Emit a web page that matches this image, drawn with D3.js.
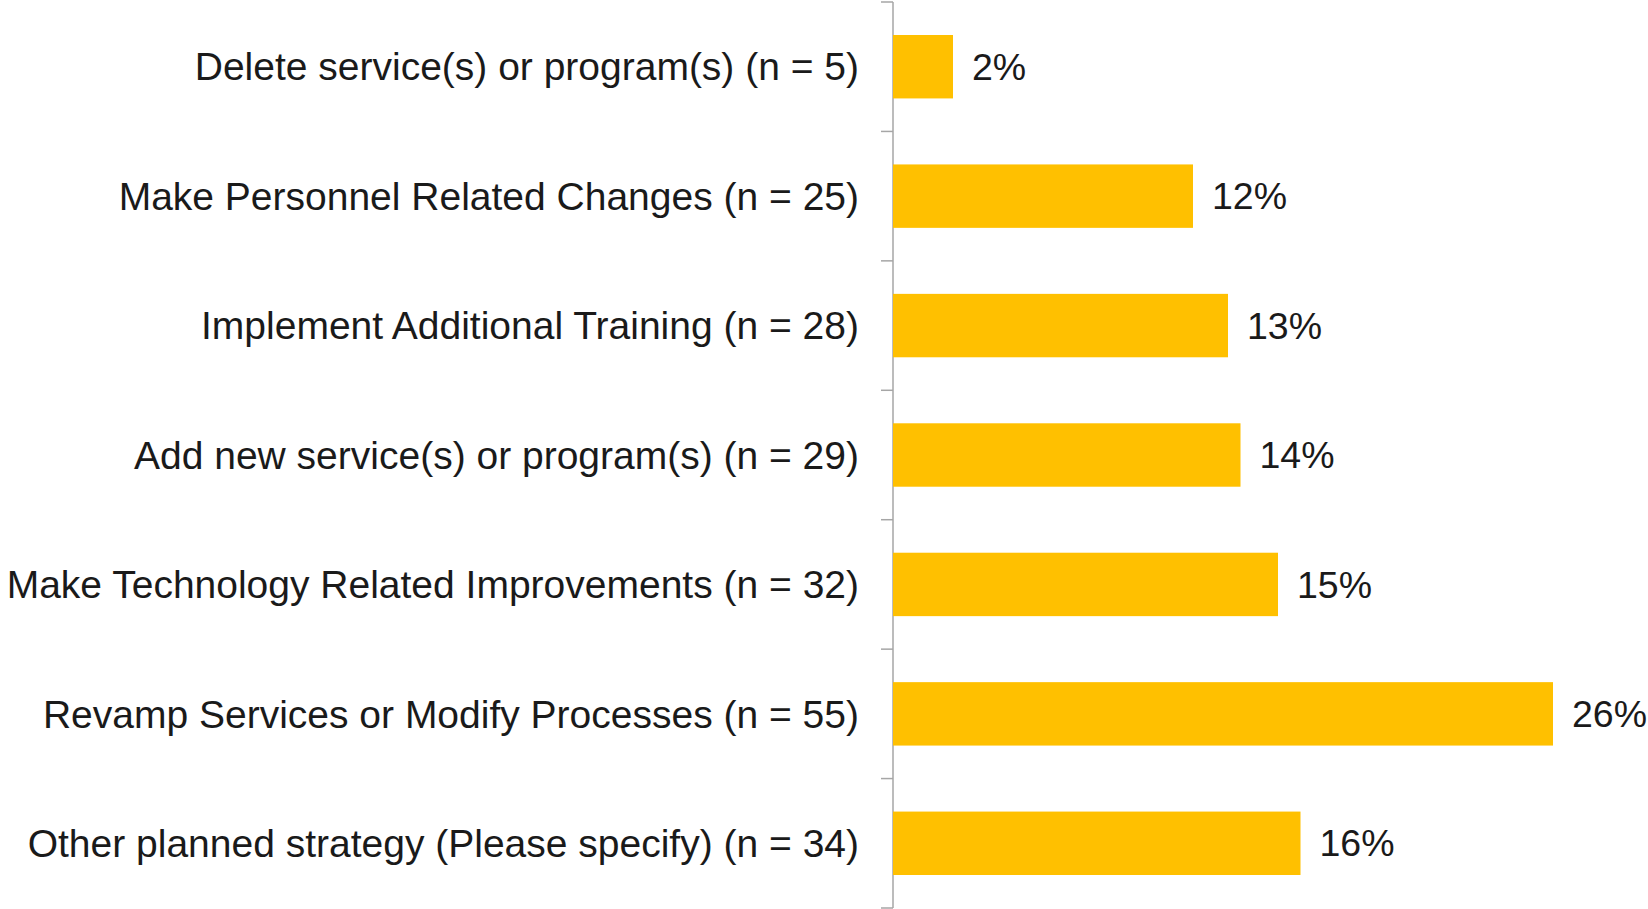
<!DOCTYPE html>
<meta charset="utf-8">
<style>
body { margin: 0; background: #fff; }
text {
  font-family: 'Liberation Sans', sans-serif;
  fill: #1a1a1a;
}
.bar { fill: #ffc000; }
.catLabel { font-size: 39px; }
.valueLabel { font-size: 37.5px; }
.axis path, .axis line { stroke: #a6a6a6; stroke-width: 1.5; }
</style>
<svg width="1648" height="909"></svg>
<script src="https://d3js.org/d3.v7.min.js"></script>
<script>

// categories, top to bottom
var categories = [
  "Delete service(s) or program(s) (n = 5)",
  "Make Personnel Related Changes (n = 25)",
  "Implement Additional Training (n = 28)",
  "Add new service(s) or program(s) (n = 29)",
  "Make Technology Related Improvements (n = 32)",
  "Revamp Services or Modify Processes (n = 55)",
  "Other planned strategy (Please specify) (n = 34)"
];

// share of responses, percent
var percentValues = [2.4, 12.0, 13.4, 13.9, 15.4, 26.4, 16.3];

var svg = d3.select("svg"),
    margin = {top: 2, right: 0, bottom: 1, left: 893},
    height = +svg.attr("height") - margin.top - margin.bottom;

var x = d3.scaleLinear().domain([0, 30]).range([0, 750]);
var y = d3.scaleBand().domain(categories).range([0, height]).paddingInner(0.51).paddingOuter(0.255);

var g = svg.append("g")
    .attr("transform", "translate(" + margin.left + "," + margin.top + ")");

// axis line with ticks between categories
var tickPos = d3.range(categories.length + 1).map(function(i) { return i * height / categories.length; });
g.append("g").attr("class", "axis")
  .append("path")
    .attr("d", "M0,0V" + height);
g.select(".axis").selectAll("line")
  .data(tickPos)
  .enter().append("line")
    .attr("x1", -12).attr("x2", 0)
    .attr("y1", function(d) { return d; })
    .attr("y2", function(d) { return d; });

var data = categories.map(function(c, i) { return {cat: c, value: percentValues[i]}; });

g.selectAll(".bar")
  .data(data)
  .enter().append("rect")
    .attr("class", "bar")
    .attr("x", 0)
    .attr("y", function(d) { return y(d.cat); })
    .attr("width", function(d) { return x(d.value); })
    .attr("height", y.bandwidth());

g.selectAll(".catLabel")
  .data(data)
  .enter().append("text")
    .attr("class", "catLabel")
    .attr("x", -34)
    .attr("y", function(d) { return y(d.cat) + y.bandwidth() / 2; })
    .attr("dy", "0.35em")
    .attr("text-anchor", "end")
    .text(function(d) { return d.cat; });

g.selectAll(".valueLabel")
  .data(data)
  .enter().append("text")
    .attr("class", "valueLabel")
    .attr("x", function(d) { return x(d.value) + 19; })
    .attr("y", function(d) { return y(d.cat) + y.bandwidth() / 2; })
    .attr("dy", "0.35em")
    .text(function(d) { return Math.round(d.value) + "%"; });

</script>
